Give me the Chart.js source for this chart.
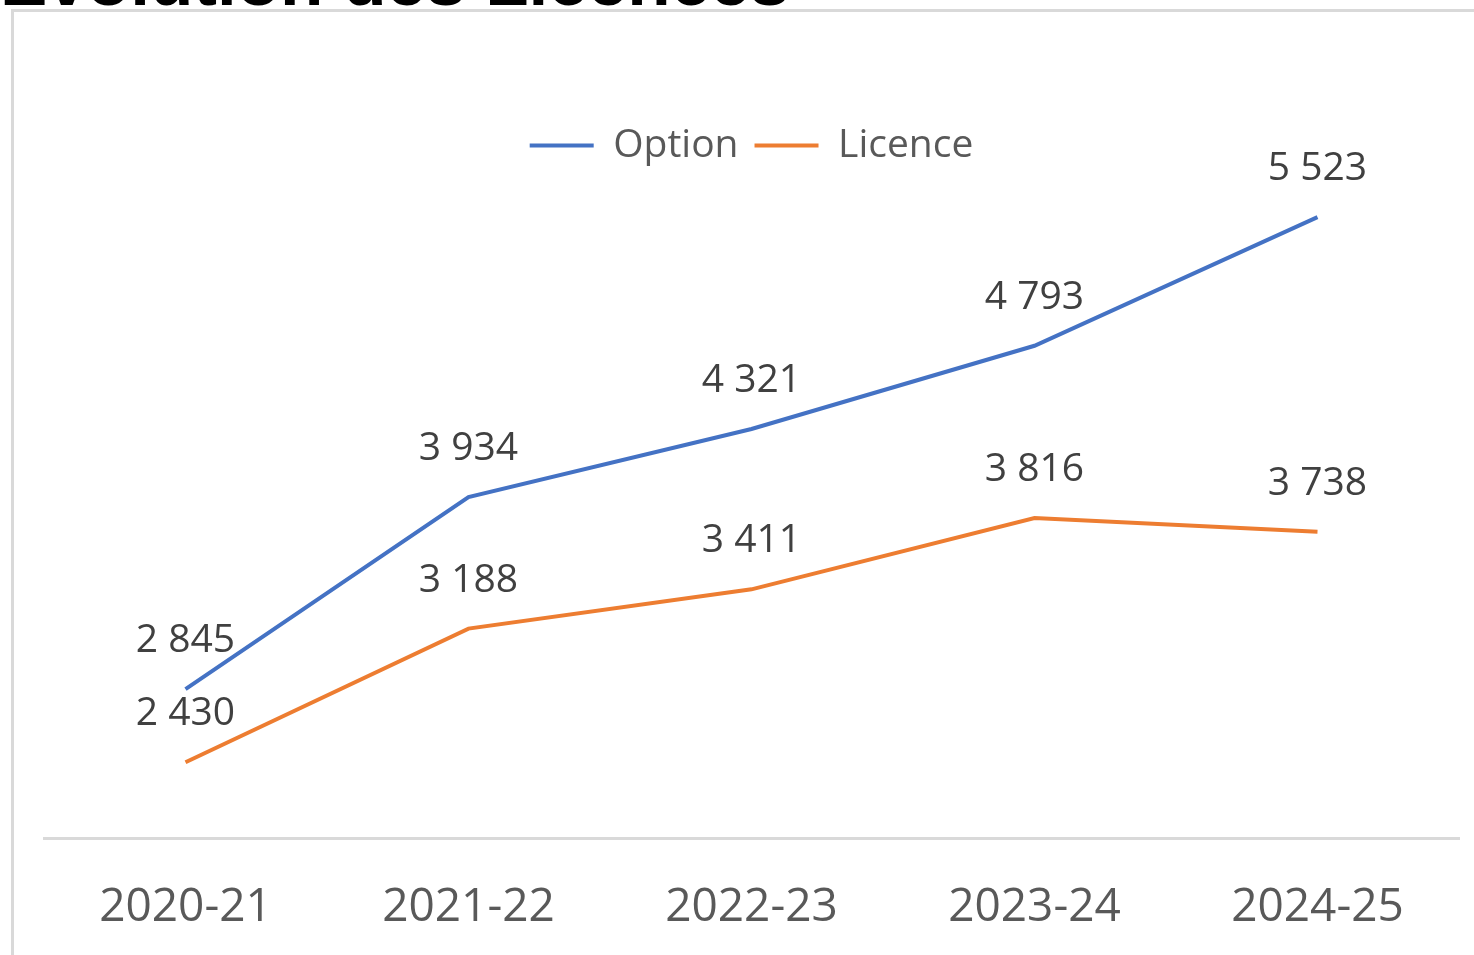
<!DOCTYPE html>
<html lang="fr">
<head>
    <meta charset="UTF-8">
    <title>Evolution des Licences</title>
    <style>
        html, body { margin: 0; padding: 0; background: #fff; overflow: hidden; }
        body { width: 1474px; height: 955px; position: relative; }
        .title {
            position: absolute; left: 0; top: -54px;
            font: bold 71px "Liberation Sans", Arial, sans-serif;
            line-height: 70px; color: #000; white-space: nowrap;
        }
        .frame {
            position: absolute; left: 11px; top: 9px;
            width: 1500px; height: 1000px;
            border-left: 3px solid #d9d9d9; border-top: 3px solid #d9d9d9;
        }
        .chart-box { position: absolute; left: 0; top: 0; width: 1474px; height: 955px; }
    </style>
    <script src="https://cdn.jsdelivr.net/npm/chart.js"></script>
</head>
<body>
    <div class="title">Évolution des Licences</div>
    <div class="frame"></div>
    <div class="chart-box">
        <canvas id="licenceChart" width="1474" height="955"></canvas>
    </div>

    <script>
    const seasons = ['2020-21', '2021-22', '2022-23', '2023-24', '2024-25'];
    const optionValues = [2845, 3934, 4321, 4793, 5523];
    const licenceValues = [2430, 3188, 3411, 3816, 3738];

    function formatFr(n) {
        return String(n).replace(/\B(?=(\d{3})+(?!\d))/g, ' ');
    }

    // labels above each point, like the Excel data labels
    const valueLabels = {
        id: 'valueLabels',
        afterDatasetsDraw(chart) {
            const ctx = chart.ctx;
            ctx.save();
            ctx.font = '39px "Open Sans"';
            ctx.fillStyle = '#404040';
            ctx.textAlign = 'center';
            ctx.textBaseline = 'middle';
            chart.data.datasets.forEach((ds, i) => {
                chart.getDatasetMeta(i).data.forEach((pt, j) => {
                    ctx.fillText(formatFr(ds.data[j]), pt.x, pt.y - 48);
                });
            });
            ctx.restore();
        }
    };

    const ctx = document.getElementById('licenceChart').getContext('2d');
    new Chart(ctx, {
        type: 'line',
        data: {
            labels: seasons,
            datasets: [
                {
                    label: 'Option',
                    data: optionValues,
                    borderColor: '#4472c4',
                    backgroundColor: '#4472c4',
                    borderWidth: 4,
                    pointRadius: 0,
                    tension: 0
                },
                {
                    label: 'Licence',
                    data: licenceValues,
                    borderColor: '#ed7d31',
                    backgroundColor: '#ed7d31',
                    borderWidth: 4,
                    pointRadius: 0,
                    tension: 0
                }
            ]
        },
        options: {
            responsive: false,
            animation: false,
            layout: { padding: { left: 44, right: 15, top: 110, bottom: 0 } },
            plugins: {
                tooltip: { enabled: false },
                legend: {
                    position: 'top',
                    labels: {
                        usePointStyle: true,
                        pointStyle: 'line',
                        pointStyleWidth: 64,
                        padding: 16,
                        color: '#595959',
                        font: { family: 'Open Sans', size: 39 }
                    }
                }
            },
            scales: {
                x: {
                    offset: true,
                    grid: { display: false },
                    border: { color: '#d9d9d9', width: 3 },
                    ticks: {
                        color: '#595959',
                        padding: 34,
                        font: { family: 'Open Sans', size: 46 }
                    },
                    afterFit(scale) { scale.height = 117; }
                },
                y: {
                    display: false,
                    min: 2000,
                    max: 5762
                }
            }
        },
        plugins: [valueLabels]
    });
    </script>
</body>
</html>
